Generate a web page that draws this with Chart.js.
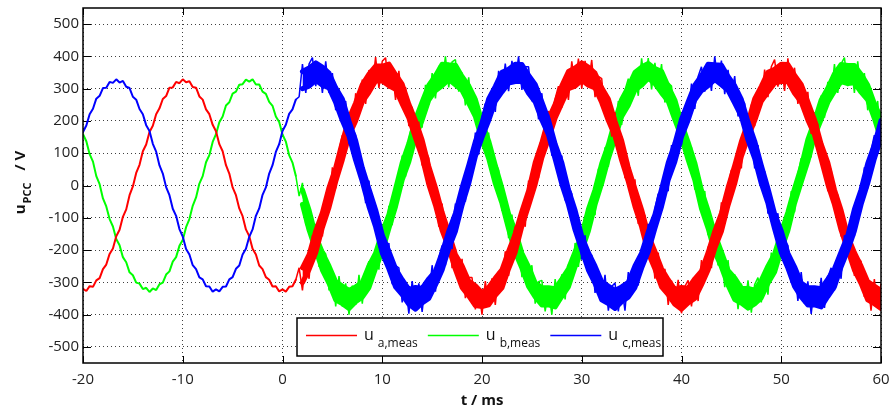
<!DOCTYPE html>
<html>
<head>
<meta charset="utf-8">
<title>u_PCC measurement</title>
<script src="https://cdn.jsdelivr.net/npm/chart.js@4.4.1/dist/chart.umd.min.js"></script>
<style>
	html, body { margin: 0; padding: 0; background: #fff; }
	#wrap { position: relative; width: 892px; height: 411px; }
</style>
</head>
<body>
<div id="wrap"><canvas id="chart" width="892" height="411"></canvas></div>
<script>
// sampled measurement, one value every 1/3 ms starting at t = -20 ms
var T_START = -20;
var T_STEP = 1 / 3;
// index of the first sample after the disturbance (t = 1.67 ms)
var NOISY_FROM = 65;

// dense noise core (upper / lower edge), read every 2/3 ms from t = 2 ms
var BAND_START = 2;
var BAND_STEP = 2 / 3;

var xTicks = [-20, -10, 0, 10, 20, 30, 40, 50, 60];
var yTicks = [-500, -400, -300, -200, -100, 0, 100, 200, 300, 400, 500];

var seriesLabels = ['u_a,meas', 'u_b,meas', 'u_c,meas'];
var seriesColors = ['#ff0000', '#00ff00', '#0000ff'];

var uA = [
	-320,-327,-312,-314,-294,-287,-259,-245,-212,-195,
	-157,-137,-97,-74,-30,-3,39,64,106,127,
	166,185,221,239,268,277,303,304,321,317,
	329,320,323,305,303,276,266,236,221,188,
	168,128,106,63,37,-6,-30,-71,-95,-136,
	-157,-196,-214,-248,-259,-284,-292,-313,-312,-328,
	-322,-329,-314,-312,-292,
	-255,-325,-230,-289,-154,-208,-97,-158,-35,-65,
	56,-9,108,156,100,205,151,286,227,328,
	253,358,305,398,302,385,396,300,363,265,
	355,250,305,184,244,147,198,62,108,85,
	-42,-7,-128,-56,-175,-130,-256,-196,-288,-227,
	-349,-285,-285,-384,-318,-400,-296,-375,-288,-370,
	-265,-311,-204,-280,-171,-127,-184,-78,-128,15,
	-33,82,23,146,114,231,160,269,308,241,
	333,265,385,309,393,300,386,314,389,274,
	338,331,218,264,151,227,109,153,23,75,
	-28,19,-119,-73,-94,-217,-176,-289,-208,-316,
	-258,-370,-295,-370,-292,-396,-313,-294,-375,-290,
	-358,-231,-293,-189,-256,-137,-170,-52,-119,-2,
	48,-5,103,53,194,142,251,184,298,255,
	359,274,368,390,306,380,293,394,300,365,
	253,321,232,290,160,210,190,66,103,-18,
	52,-70,-28,-158,-104,-203,-150,-280,-225,-235,
	-345,-290,-388,-290,-381,-305
];

var uB = [
	159,137,97,74,29,4,-40,-65,-104,-127,
	-166,-185,-222,-238,-269,-278,-301,-304,-321,-317,
	-330,-319,-324,-306,-301,-276,-266,-236,-222,-187,
	-169,-129,-104,-63,-37,6,29,72,94,135,
	159,196,214,248,258,285,291,312,314,328,
	322,329,313,313,291,284,259,247,214,197,
	158,136,94,71,30,
	-33,8,-123,-70,-170,-119,-252,-199,-212,-325,
	-273,-375,-281,-375,-303,-400,-310,-370,-277,-366,
	-268,-235,-302,-204,-261,-123,-175,-63,-123,1,
	-28,93,27,143,190,133,236,179,312,250,
	348,270,371,314,400,304,383,390,291,350,
	248,335,227,279,156,213,114,164,27,72,
	48,-79,-43,-163,-90,-208,-161,-284,-222,-311,
	-247,-366,-298,-294,-390,-320,-400,-290,-366,-275,
	-353,-245,-288,-178,-252,-140,-94,-150,-43,-92,
	52,4,118,58,180,147,262,188,295,331,
	261,350,278,394,315,395,298,380,305,376,
	257,318,308,192,236,120,194,75,118,-13,
	38,-65,-17,-154,-107,-127,-248,-204,-315,-231,
	-336,-275,-383,-304,-376,-294,-394,-307,-285,-362,
	-273,-338,-208,-267,-161,-225,-104,-136,-17,-83,
	35,85,31,138,87,227,173,279,210,321,
	275,376,287,377,396,308,378,287,385,287,
	348,233,298,206,262,129
];

var uC = [
	166,186,221,238,269,278,302,303,321,318,
	329,319,324,306,302,275,266,237,221,187,
	169,129,105,62,37,-5,-30,-72,-94,-135,
	-158,-197,-214,-247,-259,-285,-291,-312,-313,-329,
	-322,-328,-314,-313,-291,-284,-258,-248,-214,-196,
	-159,-136,-94,-71,-29,-6,37,63,104,128,
	169,188,222,236,266,
	275,376,287,377,396,308,378,287,385,287,
	348,233,298,206,262,129,177,156,31,67,
	-55,15,-106,-63,-192,-137,-234,-178,-306,-248,
	-255,-362,-303,-397,-296,-383,-303,-392,-295,-348,
	-247,-329,-225,-186,-248,-145,-197,-56,-106,8,
	-50,75,45,164,96,210,254,192,290,228,
	355,287,378,292,386,322,400,296,368,368,
	261,313,205,286,173,220,92,146,45,93,
	-46,-2,-25,-150,-112,-230,-154,-267,-215,-333,
	-265,-348,-277,-388,-313,-302,-390,-312,-388,-268,
	-336,-238,-310,-196,-234,-119,-188,-73,-25,-79,
	30,-18,125,75,187,125,244,206,316,237,
	338,368,291,372,293,400,315,387,283,358,
	275,339,214,269,254,133,172,53,125,4,
	45,-87,-35,-136,-86,-221,-171,-186,-302,-253,
	-358,-268,-366,-297,-398,-312,-376,-286,-379,-285,
	-255,-325,-230,-289,-154,-208,-97,-158,-35,-65,
	56,-9,108,156,100,205
];

var aHi = [
	-255,-214,-141,-84,-6,55,134,208,256,313,345,370,370,376,344,314,252,201,141,59,
	-7,-83,-147,-214,-249,-296,-311,-332,-316,-287,-261,-204,-150,-80,-17,71,132,206,252,309,
	353,364,380,367,348,303,268,199,139,55,-11,-75,-153,-204,-258,-292,-322,-316,-318,-289,
	-265,-208,-142,-86,-7,62,136,195,268,307,351,360,376,375,342,313,259,203,128,71,
	-13,-77,-157,-208,-250,-298,-312,-325
];
var aLo = [
	-301,-260,-208,-130,-67,12,80,155,200,259,289,324,324,309,298,253,209,147,88,3,
	-61,-139,-193,-260,-316,-342,-372,-375,-370,-340,-317,-258,-206,-126,-63,4,86,145,209,255,
	300,308,326,311,302,257,201,153,78,12,-65,-128,-209,-258,-314,-338,-368,-383,-364,-350,
	-308,-262,-195,-142,-61,6,90,149,201,261,290,317,322,322,286,259,203,157,82,4,
	-59,-138,-200,-262,-303,-354,-366,-381
];
var bHi = [
	-13,-77,-157,-208,-250,-298,-312,-325,-314,-300,-249,-210,-144,-90,-11,70,130,205,259,311,
	340,376,374,373,338,309,267,197,138,62,-9,-88,-141,-210,-252,-302,-316,-317,-320,-290,
	-258,-206,-155,-74,-13,68,126,201,267,305,350,367,378,362,354,307,265,193,134,70,
	-15,-78,-150,-206,-263,-286,-318,-319,-324,-294,-250,-212,-145,-83,-9,57,142,199,265,301,
	346,375,372,372,345,311,254,209
];
var bLo = [
	-59,-138,-200,-262,-303,-354,-366,-381,-360,-346,-316,-256,-205,-133,-65,17,74,151,203,265,
	294,309,328,312,295,255,214,141,84,6,-55,-134,-208,-256,-313,-345,-370,-370,-376,-344,
	-314,-252,-201,-141,-59,7,83,147,214,249,296,311,332,316,287,261,204,150,80,17,
	-71,-132,-206,-252,-309,-353,-364,-380,-367,-348,-303,-268,-199,-139,-55,11,75,153,204,258,
	292,322,316,318,289,265,208,142
];
var cHi = [
	353,364,380,367,348,303,268,199,139,55,-11,-75,-153,-204,-258,-292,-322,-316,-318,-289,
	-265,-208,-142,-86,-7,62,136,195,268,307,351,360,376,375,342,313,259,203,128,71,
	-13,-77,-157,-208,-250,-298,-312,-325,-314,-300,-249,-210,-144,-90,-11,70,130,205,259,311,
	340,376,374,373,338,309,267,197,138,62,-9,-88,-141,-210,-252,-302,-316,-317,-320,-290,
	-258,-206,-155,-74,-13,68,126,201
];
var cLo = [
	300,308,326,311,302,257,201,153,78,12,-65,-128,-209,-258,-314,-338,-368,-383,-364,-350,
	-308,-262,-195,-142,-61,6,90,149,201,261,290,317,322,322,286,259,203,157,82,4,
	-59,-138,-200,-262,-303,-354,-366,-381,-360,-346,-316,-256,-205,-133,-65,17,74,151,203,265,
	294,309,328,312,295,255,214,141,84,6,-55,-134,-208,-256,-313,-345,-370,-370,-376,-344,
	-314,-252,-201,-141,-59,7,83,147
];

var FONT = "'Open Sans', 'DejaVu Sans', sans-serif";
Chart.defaults.font.family = FONT;
Chart.defaults.color = '#222';

var toPoints = function(values, start, step) {
	return values.map(function(v, i) {
		return { x: start + i * step, y: v };
	});
};

// thin trace before the disturbance, zigzag spikes after it
var traceWidth = function(c) {
	return c.p0DataIndex >= NOISY_FROM - 1 ? 1.5 : 2;
};

var traceSet = function(n, values, order) {
	return {
		label: seriesLabels[n],
		data: toPoints(values, T_START, T_STEP),
		borderColor: seriesColors[n],
		segment: { borderWidth: traceWidth },
		borderJoinStyle: 'bevel',
		fill: false,
		order: order
	};
};

// the edges of the noise core are stroked, the core between them filled
var edgeSet = function(n, values, order, fillTo) {
	return {
		data: toPoints(values, BAND_START, BAND_STEP),
		borderWidth: 5,
		borderColor: seriesColors[n],
		backgroundColor: seriesColors[n],
		fill: fillTo === undefined ? false : { target: fillTo },
		order: order
	};
};

// box around the plot + short inward tick marks on all four sides
var frame = {
	id: 'frame',
	beforeDatasetsDraw: function(chart) {
		var ctx = chart.ctx, a = chart.chartArea;
		var sx = chart.scales.x, sy = chart.scales.y;
		ctx.save();
		ctx.strokeStyle = '#000';
		ctx.lineWidth = 1;
		ctx.beginPath();
		xTicks.forEach(function(v) {
			var px = Math.round(sx.getPixelForValue(v)) + 0.5;
			ctx.moveTo(px, a.bottom); ctx.lineTo(px, a.bottom - 7);
			ctx.moveTo(px, a.top); ctx.lineTo(px, a.top + 7);
		});
		yTicks.forEach(function(v) {
			var py = Math.round(sy.getPixelForValue(v)) + 0.5;
			ctx.moveTo(a.left, py); ctx.lineTo(a.left + 8, py);
			ctx.moveTo(a.right, py); ctx.lineTo(a.right - 8, py);
		});
		ctx.stroke();
		ctx.restore();
	},
	afterDatasetsDraw: function(chart) {
		var ctx = chart.ctx, a = chart.chartArea;
		ctx.save();
		ctx.strokeStyle = '#000';
		ctx.lineWidth = 1.5;
		ctx.strokeRect(a.left, a.top, a.right - a.left, a.bottom - a.top);
		ctx.restore();
	}
};

// rotated y title with subscript
var yTitle = {
	id: 'yTitle',
	afterDraw: function(chart) {
		var ctx = chart.ctx, a = chart.chartArea;
		var main = 'bold 15px ' + FONT, sub = 'bold 11px ' + FONT;
		ctx.save();
		ctx.font = main;
		var wU = ctx.measureText('u').width;
		var wRest = ctx.measureText('/ V').width;
		ctx.font = sub;
		var wSub = ctx.measureText('PCC').width;
		var gap = 12;
		var total = wU + 1 + wSub + gap + wRest;
		ctx.translate(25, (a.top + a.bottom) / 2 - 3);
		ctx.rotate(-Math.PI / 2);
		ctx.fillStyle = '#111';
		ctx.textBaseline = 'alphabetic';
		var x = -total / 2;
		ctx.font = main;
		ctx.fillText('u', x, 0);
		x += wU + 1;
		ctx.font = sub;
		ctx.fillText('PCC', x, 6);
		x += wSub + gap;
		ctx.font = main;
		ctx.fillText('/ V', x, 0);
		ctx.restore();
	}
};

// legend box with subscripted labels
var subLegend = {
	id: 'subLegend',
	afterDraw: function(chart) {
		var ctx = chart.ctx;
		var box = { left: 297, top: 318, width: 366, height: 38 };
		ctx.save();
		ctx.fillStyle = '#fff';
		ctx.fillRect(box.left, box.top, box.width, box.height);
		ctx.strokeStyle = '#000';
		ctx.lineWidth = 1.5;
		ctx.strokeRect(box.left, box.top, box.width, box.height);
		var x = box.left + 9;
		var lineY = box.top + 17.5;
		seriesLabels.forEach(function(label, n) {
			var parts = label.split('_');
			ctx.strokeStyle = seriesColors[n];
			ctx.lineWidth = 1.5;
			ctx.beginPath();
			ctx.moveTo(x, lineY); ctx.lineTo(x + 51, lineY);
			ctx.stroke();
			x += 58;
			ctx.fillStyle = '#111';
			ctx.font = '16px ' + FONT;
			ctx.fillText(parts[0], x, box.top + 22);
			x += ctx.measureText(parts[0]).width + 4;
			ctx.font = '12px ' + FONT;
			ctx.fillText(parts[1], x, box.top + 29);
			x += ctx.measureText(parts[1]).width + 10;
		});
		ctx.restore();
	}
};

// drawing order as in the reference: c on top, then a, then b
var ctx = document.getElementById('chart').getContext('2d');
var upccChart = new Chart(ctx, {
	type: 'line',
	data: {
		datasets: [
			traceSet(0, uA, 1),
			traceSet(1, uB, 2),
			traceSet(2, uC, 0),
			edgeSet(0, aHi, 1.6),
			edgeSet(0, aLo, 1.5, 3),
			edgeSet(1, bHi, 2.6),
			edgeSet(1, bLo, 2.5, 5),
			edgeSet(2, cHi, 0.6),
			edgeSet(2, cLo, 0.5, 7)
		]
	},
	options: {
		responsive: false,
		animation: false,
		devicePixelRatio: 1,
		layout: { padding: { top: 8, right: 11, left: 0, bottom: 0 } },
		elements: {
			point: { radius: 0 },
			line: { borderWidth: 2, tension: 0, borderJoinStyle: 'round', borderCapStyle: 'round' }
		},
		plugins: {
			legend: { display: false },
			tooltip: { enabled: false },
			filler: { propagate: false }
		},
		scales: {
			x: {
				type: 'linear',
				min: -20,
				max: 60,
				afterBuildTicks: function(scale) {
					scale.ticks = xTicks.map(function(v) { return { value: v }; });
				},
				afterFit: function(scale) {
					scale.height = 48;
					scale.paddingLeft = 0;
					scale.paddingRight = 0;
				},
				grid: { color: 'rgba(0,0,0,0.75)', lineWidth: 1, drawTicks: false },
				border: { display: false, dash: [1, 3] },
				ticks: { font: { size: 15 }, padding: 8, maxRotation: 0 },
				title: {
					display: true,
					text: 't / ms',
					font: { size: 15, weight: 'bold' },
					color: '#111',
					padding: { top: 0, bottom: 1 }
				}
			},
			y: {
				min: -550,
				max: 550,
				afterBuildTicks: function(scale) {
					scale.ticks = yTicks.map(function(v) { return { value: v }; });
				},
				afterFit: function(scale) {
					scale.width = 83;
					scale.paddingTop = 0;
					scale.paddingBottom = 0;
				},
				grid: { color: 'rgba(0,0,0,0.75)', lineWidth: 1, drawTicks: false },
				border: { display: false, dash: [1, 3] },
				ticks: { font: { size: 15 }, padding: 4 }
			}
		}
	},
	plugins: [frame, yTitle, subLegend]
});
</script>
</body>
</html>
